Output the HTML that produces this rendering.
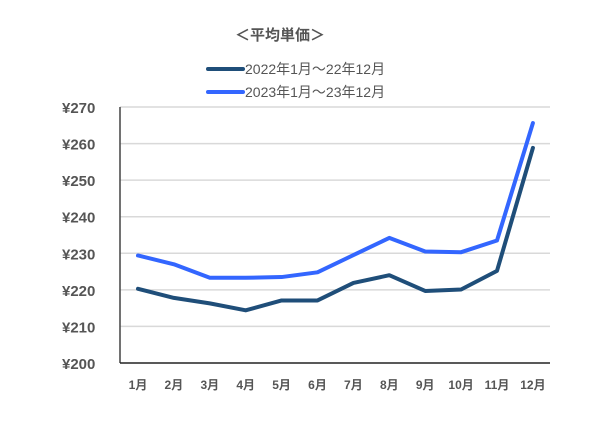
<!DOCTYPE html>
<html><head><meta charset="utf-8"><style>
body{margin:0;background:#fff;}
svg text{font-family:"Liberation Sans","Noto Sans CJK JP",sans-serif;}
</style></head><body>
<svg id="c" width="600" height="433" xmlns="http://www.w3.org/2000/svg">
<text x="280" y="40" text-anchor="middle" font-size="15" font-weight="bold" fill="#555">＜平均単価＞</text>
<g>
<line x1="208" y1="69" x2="243" y2="69" stroke="#1f4e79" stroke-width="4" stroke-linecap="round"/>
<text x="245" y="74" font-size="14" fill="#555">2022年1月～22年12月</text>
<line x1="208" y1="92" x2="243" y2="92" stroke="#3366ff" stroke-width="4" stroke-linecap="round"/>
<text x="245" y="97" font-size="14" fill="#555">2023年1月～23年12月</text>
</g>
<g id="grid"></g><g id="axes"></g><g id="series"></g>
</svg>
<script>
const months=["1月","2月","3月","4月","5月","6月","7月","8月","9月","10月","11月","12月"];
const yTicks=[200,210,220,230,240,250,260,270];
const series2022=[220.3,217.8,216.3,214.4,217.1,217.1,221.9,224.0,219.7,220.1,225.2,258.8];
const series2023=[229.4,227.0,223.3,223.3,223.5,224.8,229.5,234.2,230.5,230.3,233.5,265.6];
const NS="http://www.w3.org/2000/svg";
const x=i=>138+i*35.9;
const y=v=>363-(v-200)*(256/70);
function mk(t,a,p){const e=document.createElementNS(NS,t);for(const k in a)e.setAttribute(k,a[k]);p.appendChild(e);return e;}
const g=document.getElementById('grid'),ax=document.getElementById('axes'),s=document.getElementById('series');
yTicks.forEach(v=>{
 if(v>200){const l=mk('line',{x1:120,x2:550,y1:y(v),y2:y(v),stroke:'#d9d9d9','stroke-width':1.5},g);
 
 }
 const t=mk('text',{x:62,y:y(v)+6,'font-size':15,'font-weight':'bold',fill:'#555'},ax);t.textContent='¥'+v;
 
 
});
const ya=mk('line',{x1:120,x2:120,y1:107,y2:363,stroke:'#444','stroke-width':1.5},ax);


const xa=mk('line',{x1:120,x2:550,y1:363,y2:363,stroke:'#222','stroke-width':1.5},ax);


months.forEach((m,i)=>{const t=mk('text',{x:x(i),y:389,'text-anchor':'middle','font-size':12,'font-weight':'bold',fill:'#555'},ax);t.textContent=m;
 
 });
function line(d,c,n){const p=mk('polyline',{points:d.map((v,i)=>x(i)+','+y(v)).join(' '),fill:'none',stroke:c,'stroke-width':4,'stroke-linejoin':'round','stroke-linecap':'round'},s);
 
 }
line(series2022,'#1f4e79','series-2022-line');
line(series2023,'#3366ff','series-2023-line');
</script>
</body></html>
